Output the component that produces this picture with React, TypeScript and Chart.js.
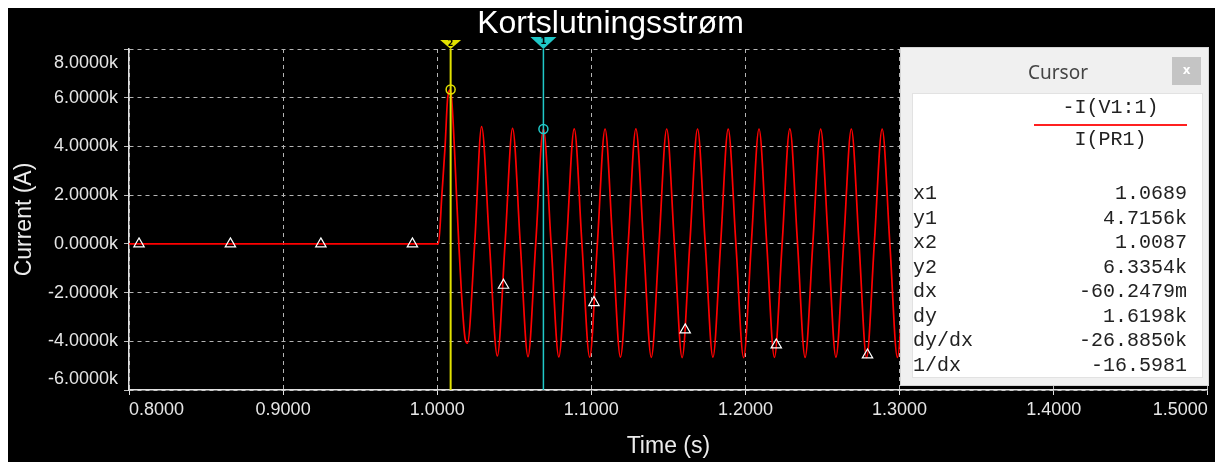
import React, { useEffect, useRef } from 'react';
import { Chart, registerables } from 'chart.js';

Chart.register(...registerables);

const FONT = "'Liberation Sans', Arial, sans-serif";
const MONO = "'Liberation Mono', 'Courier New', monospace";

const titleText = 'Kortslutningsstrøm';
const xTitle = 'Time (s)';
const yTitle = 'Current (A)';

const xTickValues = [0.8, 0.9, 1.0, 1.1, 1.2, 1.3, 1.4, 1.5];
const yTickValues = [-6000, -4000, -2000, 0, 2000, 4000, 6000, 8000];

// Trace -I(V1:1) : time (s) and current (A)
const timeS = [
  0.8, 1.0008, 1.003, 1.0051, 1.0068, 1.0087, 1.0111, 1.0125, 1.014, 1.0157, 1.0181, 1.0196,
  1.0243, 1.0288, 1.0339, 1.039, 1.044, 1.0489, 1.0539, 1.0589, 1.0639, 1.0689, 1.0739, 1.0789,
  1.0839, 1.0889, 1.0939, 1.0989, 1.1039, 1.1089, 1.1139, 1.1189, 1.1239, 1.1289, 1.1339, 1.1389,
  1.1439, 1.1489, 1.1539, 1.1589, 1.1639, 1.1689, 1.1739, 1.1789, 1.1839, 1.1888, 1.1938, 1.1988,
  1.2038, 1.2088, 1.2138, 1.2188, 1.2238, 1.2288, 1.2338, 1.2387, 1.2437, 1.2488, 1.2538, 1.2587,
  1.2637, 1.2687, 1.2737, 1.2786, 1.2836, 1.2887, 1.2937, 1.2986, 1.3036, 1.3087,
];
const currentA = [
  0, 0, 2000, 4000, 6000, 6335, 4000, 2000, 0, -2000, -3900, -4080,
  0, 4810, 0, -4600, 0, 4740, 0, -4630, 0, 4716, 0, -4640,
  0, 4720, 0, -4650, 0, 4715, 0, -4650, 0, 4720, 0, -4660,
  0, 4715, 0, -4670, 0, 4715, 0, -4650, 0, 4710, 0, -4670,
  0, 4715, 0, -4660, 0, 4720, 0, -4660, 0, 4710, 0, -4650,
  0, 4715, 0, -4670, 0, 4710, 0, -4660, 0, 4710,
];

// Trace markers (triangles)
const markerTimeS = [0.8065, 0.8658, 0.9245, 0.9839, 1.043, 1.1017, 1.1609, 1.22, 1.2792];
const markerCurrentA = [0, 0, 0, 0, -1700, -2410, -3530, -4150, -4560];

// Cursors (1 = cyan, 2 = yellow)
const cursorNames = ['1', '2'];
const cursorTimeS = [1.0689, 1.0087];
const cursorCurrentA = [4715.6, 6335.4];
const cursorColors = ['#20c8c8', '#e2e200'];

const traceTop = '-I(V1:1)';
const traceBottom = 'I(PR1)';
const cursorRowNames = ['x1', 'y1', 'x2', 'y2', 'dx', 'dy', 'dy/dx', '1/dx'];
const cursorRowValues = ['1.0689', '4.7156k', '1.0087', '6.3354k', '-60.2479m', '1.6198k', '-26.8850k', '-16.5981'];

const cursorFlags = {
  id: 'cursorFlags',
  afterDraw(chart: any) {
    const { ctx, chartArea, scales } = chart;
    const xs = scales.x;
    cursorTimeS.forEach((t, i) => {
      const px = xs.getPixelForValue(t);
      const w = i === 0 ? 26 : 21;
      const h = i === 0 ? 12 : 9;
      const top = chartArea.top;
      ctx.save();
      ctx.fillStyle = cursorColors[i];
      ctx.beginPath();
      ctx.moveTo(px - w / 2, top - h);
      ctx.lineTo(px + w / 2, top - h);
      ctx.lineTo(px, top);
      ctx.closePath();
      ctx.fill();
      ctx.fillStyle = '#000';
      ctx.font = `bold ${i === 0 ? 9 : 8}px 'DejaVu Sans'`;
      ctx.textAlign = 'center';
      ctx.textBaseline = 'middle';
      ctx.fillText(cursorNames[i], px, top - h + (i === 0 ? 4.5 : 3.5));
      ctx.restore();
    });
  },
};

export default function App() {
  const canvasRef = useRef<HTMLCanvasElement | null>(null);

  useEffect(() => {
    const canvas = canvasRef.current;
    if (!canvas) return;

    const trace = timeS.map((t, i) => ({ x: t, y: currentA[i] }));
    const markers = markerTimeS.map((t, i) => ({ x: t, y: markerCurrentA[i] }));

    const cursorLineSets = cursorTimeS.map((t, i) => ({
      data: [
        { x: t, y: yTickValues[0] },
        { x: t, y: yTickValues[yTickValues.length - 1] },
      ],
      borderColor: cursorColors[i],
      borderWidth: i === 0 ? 1.5 : 2,
      pointRadius: 0,
      showLine: true,
      order: 1,
    }));
    const cursorPointSets = cursorTimeS.map((t, i) => ({
      data: [{ x: t, y: cursorCurrentA[i] }],
      borderColor: cursorColors[i],
      backgroundColor: 'rgba(0,0,0,0)',
      borderWidth: 1.5,
      pointRadius: 4.5,
      pointStyle: 'circle',
      showLine: false,
      order: 0,
    }));

    const chart = new Chart(canvas, {
      type: 'line',
      data: {
        datasets: [
          ...cursorPointSets,
          ...cursorLineSets,
          {
            data: markers,
            showLine: false,
            pointStyle: 'triangle',
            pointRadius: 6,
            borderColor: '#ffffff',
            backgroundColor: 'rgba(0,0,0,0)',
            borderWidth: 1.2,
            order: 2,
          },
          {
            data: trace,
            borderColor: '#ff0000',
            borderWidth: 1.7,
            pointRadius: 0,
            cubicInterpolationMode: 'monotone',
            order: 3,
          },
        ] as any,
      },
      options: {
        animation: false,
        responsive: true,
        maintainAspectRatio: false,
        events: [],
        layout: { padding: { top: 0, right: 2, bottom: 0, left: 0 } },
        plugins: {
          legend: { display: false },
          tooltip: { enabled: false },
          title: {
            display: true,
            text: titleText,
            color: '#ffffff',
            font: { family: FONT, size: 32, weight: 'normal', lineHeight: 1 },
            padding: { top: 0, bottom: 9 },
          },
        },
        scales: {
          x: {
            type: 'linear',
            min: xTickValues[0],
            max: xTickValues[xTickValues.length - 1],
            afterBuildTicks: (s: any) => {
              s.ticks = xTickValues.map((v) => ({ value: v }));
            },
            afterFit: (s: any) => {
              s.height = 72;
            },
            ticks: {
              align: 'inner',
              color: '#e6e6e6',
              font: { family: FONT, size: 18 },
              padding: 4,
              maxRotation: 0,
              autoSkip: false,
              callback: (v: any) => Number(v).toFixed(4),
            },
            grid: {
              color: '#b4b4b4',
              lineWidth: 1,
              tickLength: 5,
              tickColor: '#e0e0e0',
              tickBorderDash: [],
              tickWidth: 1,
            },
            border: { display: true, color: '#e0e0e0', width: 1.5, dash: [4, 4] },
            title: {
              display: true,
              text: xTitle,
              color: '#ececec',
              font: { family: FONT, size: 23 },
              padding: { top: 8, bottom: 2 },
            },
          },
          y: {
            type: 'linear',
            min: yTickValues[0],
            max: yTickValues[yTickValues.length - 1],
            afterBuildTicks: (s: any) => {
              s.ticks = yTickValues.map((v) => ({ value: v }));
            },
            afterFit: (s: any) => {
              s.width = 121;
            },
            ticks: {
              color: '#e6e6e6',
              padding: 6,
              autoSkip: false,
              font: (c: any) => ({
                family: FONT,
                size: 18,
                lineHeight:
                  c.index === yTickValues.length - 1 ? '28px' : c.index === 0 ? '22px' : 1.2,
              }),
              callback: (v: any, i: number, ticks: any[]) => {
                const s = (Number(v) / 1000).toFixed(4) + 'k';
                if (i === ticks.length - 1) return ['', s];
                if (i === 0) return [s, ''];
                return s;
              },
            },
            grid: {
              color: '#b4b4b4',
              lineWidth: 1,
              tickLength: 5,
              tickColor: '#bdbdbd',
              tickBorderDash: [],
              tickWidth: 1,
            },
            border: { display: true, color: '#e0e0e0', width: 1.5, dash: [4, 4] },
            title: {
              display: true,
              text: yTitle,
              color: '#ececec',
              font: { family: FONT, size: 23 },
              padding: { top: 3, bottom: 0 },
            },
          },
        },
      } as any,
      plugins: [cursorFlags],
    });

    return () => {
      chart.destroy();
    };
  }, []);

  const rowTop = 88;
  const rowStep = 24.5;

  return (
    <div
      style={{
        position: 'fixed',
        left: 8,
        top: 8,
        width: 1207,
        height: 454,
        background: '#000',
        overflow: 'hidden',
      }}
    >
      <div style={{ position: 'absolute', left: 0, top: 0, width: 1207, height: 454 }}>
        <canvas ref={canvasRef} />
      </div>
      <div
        style={{
          position: 'absolute',
          left: 892,
          top: 39,
          width: 309,
          height: 339,
          background: '#f0f0f0',
          border: '1px solid #d4d4d4',
          boxSizing: 'border-box',
        }}
      >
        <div
          style={{
            position: 'absolute',
            left: 0,
            top: 11,
            width: 314,
            textAlign: 'center',
            fontFamily: "'Noto Sans', 'Open Sans', sans-serif",
            fontSize: 19,
            lineHeight: '26px',
            color: '#444',
          }}
        >
          Cursor
        </div>
        <div
          style={{
            position: 'absolute',
            left: 271,
            top: 9,
            width: 29,
            height: 28,
            background: '#c4c4c4',
            color: '#fff',
            textAlign: 'center',
            fontFamily: "'DejaVu Sans', sans-serif",
            fontWeight: 'bold',
            fontSize: 12,
            lineHeight: '27px',
          }}
        >
          x
        </div>
        <div
          style={{
            position: 'absolute',
            left: 11,
            top: 45,
            width: 291,
            height: 285,
            background: '#fff',
            border: '1px solid #e2e2e2',
            boxSizing: 'border-box',
            fontFamily: MONO,
            fontSize: 20,
            color: '#222',
          }}
        >
          <div style={{ position: 'absolute', left: 121, top: 2, width: 153, textAlign: 'center', lineHeight: '24px' }}>
            {traceTop}
          </div>
          <div style={{ position: 'absolute', left: 121, top: 30, width: 153, height: 2, background: '#ff2020' }} />
          <div style={{ position: 'absolute', left: 121, top: 34, width: 153, textAlign: 'center', lineHeight: '24px' }}>
            {traceBottom}
          </div>
          {cursorRowNames.map((name, i) => (
            <div
              key={name}
              style={{
                position: 'absolute',
                left: 0,
                top: rowTop + i * rowStep,
                width: 274,
                height: 24,
                lineHeight: '24px',
                display: 'flex',
                justifyContent: 'space-between',
              }}
            >
              <span>{name}</span>
              <span>{cursorRowValues[i]}</span>
            </div>
          ))}
        </div>
      </div>
    </div>
  );
}
